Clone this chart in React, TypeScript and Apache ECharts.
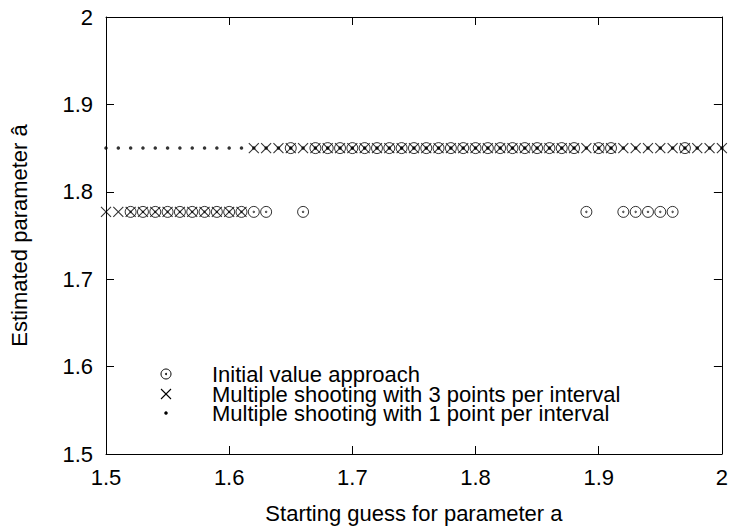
import { useEffect, useRef } from "react";
import * as echarts from "echarts";

// Starting guesses for parameter a and the estimate each method converged to
const initialX = [
  1.52, 1.53, 1.54, 1.55, 1.56, 1.57, 1.58, 1.59, 1.6, 1.61, 1.62, 1.63,
  1.65, 1.66, 1.67, 1.68, 1.69, 1.7, 1.71, 1.72, 1.73, 1.74, 1.75, 1.76,
  1.77, 1.78, 1.79, 1.8, 1.81, 1.82, 1.83, 1.84, 1.85, 1.86, 1.87, 1.88,
  1.89, 1.9, 1.91, 1.92, 1.93, 1.94, 1.95, 1.96, 1.97,
];
const initialY = [
  1.777, 1.777, 1.777, 1.777, 1.777, 1.777, 1.777, 1.777, 1.777, 1.777, 1.777, 1.777,
  1.85, 1.777, 1.85, 1.85, 1.85, 1.85, 1.85, 1.85, 1.85, 1.85, 1.85, 1.85,
  1.85, 1.85, 1.85, 1.85, 1.85, 1.85, 1.85, 1.85, 1.85, 1.85, 1.85, 1.85,
  1.777, 1.85, 1.85, 1.777, 1.777, 1.777, 1.777, 1.777, 1.85,
];

const shootingX = [
  1.5, 1.51, 1.52, 1.53, 1.54, 1.55, 1.56, 1.57, 1.58, 1.59, 1.6, 1.61,
  1.62, 1.63, 1.64, 1.65, 1.66, 1.67, 1.68, 1.69, 1.7, 1.71, 1.72, 1.73,
  1.74, 1.75, 1.76, 1.77, 1.78, 1.79, 1.8, 1.81, 1.82, 1.83, 1.84, 1.85,
  1.86, 1.87, 1.88, 1.89, 1.9, 1.91, 1.92, 1.93, 1.94, 1.95, 1.96, 1.97,
  1.98, 1.99, 2.0,
];
const threePointY = [
  1.777, 1.777, 1.777, 1.777, 1.777, 1.777, 1.777, 1.777, 1.777, 1.777, 1.777, 1.777,
  1.85, 1.85, 1.85, 1.85, 1.85, 1.85, 1.85, 1.85, 1.85, 1.85, 1.85, 1.85,
  1.85, 1.85, 1.85, 1.85, 1.85, 1.85, 1.85, 1.85, 1.85, 1.85, 1.85, 1.85,
  1.85, 1.85, 1.85, 1.85, 1.85, 1.85, 1.85, 1.85, 1.85, 1.85, 1.85, 1.85,
  1.85, 1.85, 1.85,
];
const onePointY = [
  1.85, 1.85, 1.85, 1.85, 1.85, 1.85, 1.85, 1.85, 1.85, 1.85, 1.85, 1.85,
  1.85, 1.85, 1.85, 1.85, 1.85, 1.85, 1.85, 1.85, 1.85, 1.85, 1.85, 1.85,
  1.85, 1.85, 1.85, 1.85, 1.85, 1.85, 1.85, 1.85, 1.85, 1.85, 1.85, 1.85,
  1.85, 1.85, 1.85, 1.85, 1.85, 1.85, 1.85, 1.85, 1.85, 1.85, 1.85, 1.85,
  1.85, 1.85, 1.85,
];

const seriesNames = [
  "Initial value approach",
  "Multiple shooting with 3 points per interval",
  "Multiple shooting with 1 point per interval",
];

const FONT = "'Liberation Sans', Arial, Helvetica, sans-serif";
const FS = 22;

const CIRCLE_DOT =
  "path://M5,0A5,5,0,1,1,-5,0A5,5,0,1,1,5,0ZM0.7,0A0.7,0.7,0,1,1,-0.7,0A0.7,0.7,0,1,1,0.7,0Z";
const CROSS = "path://M-5,-5L5,5M-5,5L5,-5";

const zip = (xs: number[], ys: number[]) => xs.map((x, i) => [x, ys[i]]);

export default function App() {
  const ref = useRef<HTMLDivElement>(null);

  useEffect(() => {
    if (!ref.current) return;
    document.body.style.margin = "0";
    const chart = echarts.init(ref.current, undefined, { renderer: "svg" });

    const axisCommon = {
      type: "value" as const,
      min: 1.5,
      max: 2,
      interval: 0.1,
      axisLine: { show: true, onZero: false, lineStyle: { color: "#000", width: 1 } },
      axisTick: { show: true, inside: true, length: 8, lineStyle: { color: "#000", width: 1 } },
      splitLine: { show: false },
    };
    const labelStyle = { color: "#000", fontSize: FS, fontFamily: FONT };
    const nameStyle = { color: "#000", fontSize: FS, fontFamily: FONT };

    const legendRows = [374, 394, 413];
    const iconX = 166;
    const textX = 212;

    chart.setOption({
      animation: false,
      backgroundColor: "#fff",
      grid: { left: 105, right: 6, top: 17, bottom: 76, containLabel: false },
      xAxis: [
        {
          ...axisCommon,
          position: "bottom",
          name: "Starting guess for parameter a",
          nameLocation: "middle",
          nameGap: 48,
          nameTextStyle: nameStyle,
          axisLabel: { ...labelStyle, margin: 12 },
        },
        {
          ...axisCommon,
          position: "top",
          axisLabel: { show: false },
        },
      ],
      yAxis: [
        {
          ...axisCommon,
          position: "left",
          name: "Estimated parameter â",
          nameLocation: "middle",
          nameGap: 76,
          nameTextStyle: nameStyle,
          axisLabel: { ...labelStyle, margin: 13 },
        },
        {
          ...axisCommon,
          position: "right",
          axisLabel: { show: false },
        },
      ],
      series: [
        {
          name: seriesNames[0],
          type: "scatter",
          data: zip(initialX, initialY),
          symbol: CIRCLE_DOT,
          symbolSize: 11,
          clip: false,
          itemStyle: { color: "rgba(0,0,0,0)", borderColor: "#000", borderWidth: 1 },
        },
        {
          name: seriesNames[1],
          type: "scatter",
          data: zip(shootingX, threePointY),
          symbol: CROSS,
          symbolSize: 10,
          clip: false,
          itemStyle: { color: "rgba(0,0,0,0)", borderColor: "#000", borderWidth: 1.1 },
        },
        {
          name: seriesNames[2],
          type: "scatter",
          data: zip(shootingX, onePointY),
          symbol: "circle",
          symbolSize: 3.5,
          clip: false,
          itemStyle: { color: "#000" },
        },
      ],
      graphic: [
        {
          type: "group",
          silent: true,
          children: [
            {
              type: "circle",
              shape: { cx: iconX, cy: legendRows[0], r: 5 },
              style: { fill: "none", stroke: "#000", lineWidth: 1 },
            },
            {
              type: "circle",
              shape: { cx: iconX, cy: legendRows[0], r: 0.7 },
              style: { fill: "none", stroke: "#000", lineWidth: 1 },
            },
            {
              type: "line",
              shape: { x1: iconX - 5, y1: legendRows[1] - 5, x2: iconX + 5, y2: legendRows[1] + 5 },
              style: { stroke: "#000", lineWidth: 1.1 },
            },
            {
              type: "line",
              shape: { x1: iconX - 5, y1: legendRows[1] + 5, x2: iconX + 5, y2: legendRows[1] - 5 },
              style: { stroke: "#000", lineWidth: 1.1 },
            },
            {
              type: "circle",
              shape: { cx: iconX, cy: legendRows[2], r: 1.75 },
              style: { fill: "#000" },
            },
            ...seriesNames.map((name, i) => ({
              type: "text",
              x: textX,
              y: legendRows[i],
              style: {
                text: name,
                fill: "#000",
                font: `${FS}px ${FONT}`,
                lineHeight: 18,
                textAlign: "left",
                textVerticalAlign: "middle",
              },
            })),
          ],
        },
      ],
    });

    return () => chart.dispose();
  }, []);

  return <div ref={ref} style={{ width: 731, height: 530 }} />;
}
